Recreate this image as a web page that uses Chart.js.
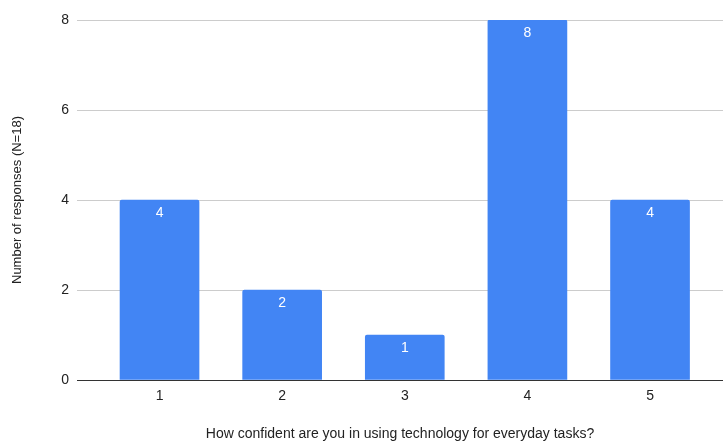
<!DOCTYPE html>
<html>
<head>
<meta charset="utf-8">
<script src="https://cdn.jsdelivr.net/npm/chart.js@4/dist/chart.umd.min.js"></script>
<style>
  html, body { margin: 0; padding: 0; background: #fff; }
  #wrap { width: 723px; height: 443px; }
</style>
</head>
<body>
<div id="wrap"><canvas id="c" width="723" height="443"></canvas></div>
<script>
// Survey answers: confidence rating (1-5) and how many people picked each
const ratings = [1, 2, 3, 4, 5];
const responses = [4, 2, 1, 8, 4];
const yTicks = [0, 2, 4, 6, 8];

const FONT = "'Liberation Sans', Arial, Helvetica, sans-serif";

// Writes each bar's count in white just under its top edge
const barValueLabels = {
  id: 'barValueLabels',
  afterDatasetsDraw(chart) {
    const ctx = chart.ctx;
    const meta = chart.getDatasetMeta(0);
    ctx.save();
    ctx.fillStyle = '#ffffff';
    ctx.font = '14px ' + FONT;
    ctx.textAlign = 'center';
    ctx.textBaseline = 'middle';
    meta.data.forEach((bar, i) => {
      ctx.fillText(String(responses[i]), bar.x, bar.y + 13);
    });
    ctx.restore();
  }
};

new Chart(document.getElementById('c'), {
  type: 'bar',
  data: {
    datasets: [{
      data: ratings.map((r, i) => ({ x: r, y: responses[i] })),
      backgroundColor: '#4285F4',
      borderRadius: { topLeft: 2, topRight: 2 },
      borderSkipped: 'bottom',
      barThickness: 79
    }]
  },
  plugins: [barValueLabels],
  options: {
    responsive: false,
    animation: false,
    layout: { padding: { top: 20, right: 0, left: 0, bottom: 0 } },
    plugins: {
      legend: { display: false },
      tooltip: { enabled: false }
    },
    scales: {
      x: {
        type: 'linear',
        offset: false,
        min: 0.327,
        max: 5.595,
        afterBuildTicks(scale) {
          scale.ticks = ratings.map(v => ({ value: v }));
        },
        afterFit(scale) { scale.height = 63; },
        grid: { display: false, drawTicks: false, offset: false },
        border: { display: false },
        ticks: {
          padding: 8,
          color: '#222',
          font: { family: FONT, size: 14 },
          callback: v => String(v)
        },
        title: {
          display: true,
          text: 'How confident are you in using technology for everyday tasks?',
          color: '#222',
          font: { family: FONT, size: 14 },
          padding: { top: 0, bottom: 0 }
        }
      },
      y: {
        min: 0,
        max: 8,
        afterBuildTicks(scale) {
          scale.ticks = yTicks.map(v => ({ value: v }));
        },
        afterFit(scale) { scale.width = 77; },
        grid: {
          drawTicks: false,
          color: ctx => (ctx.tick && ctx.tick.value === 0 ? '#333333' : '#cccccc'),
          lineWidth: 1
        },
        border: { display: false },
        ticks: {
          padding: 8,
          color: '#222',
          font: { family: FONT, size: 14 }
        },
        title: {
          display: true,
          text: 'Number of responses (N=18)',
          color: '#222',
          font: { family: FONT, size: 13 },
          padding: { top: 10, bottom: 0 }
        }
      }
    }
  }
});
</script>
</body>
</html>
